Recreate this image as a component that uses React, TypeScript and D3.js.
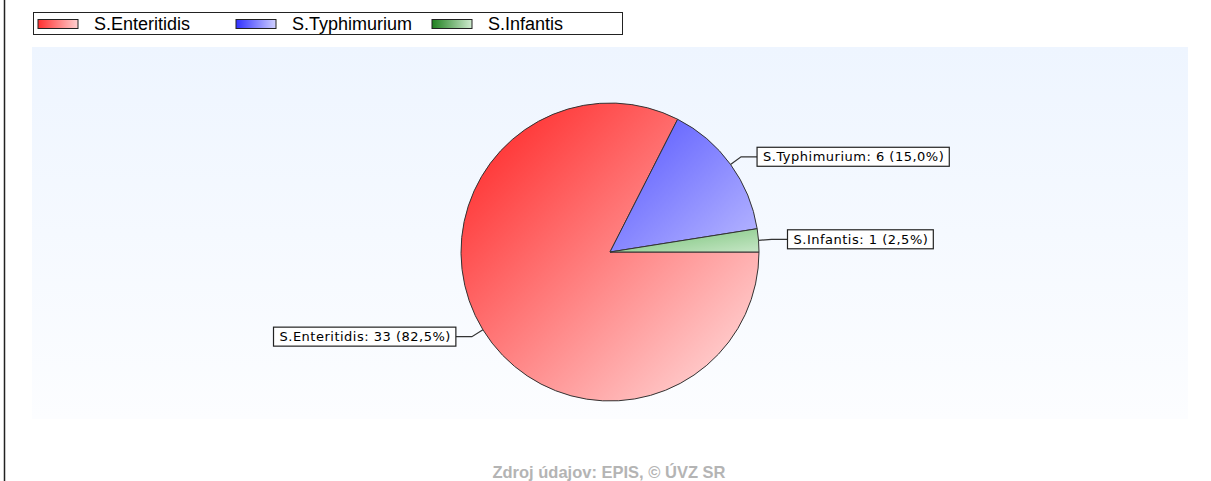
import React from "react";
import * as d3 from "d3";

const categories = ["S.Enteritidis", "S.Typhimurium", "S.Infantis"];
const values = [33, 6, 1];
const percentLabels = ["82,5%", "15,0%", "2,5%"];
const footerText = "Zdroj údajov: EPIS, © ÚVZ SR";

const W = 1211;
const H = 481;
const cx = 610;
const cy = 252;
const R = 149;

const sliceColors = [
  { dark: "#ff1f1f", light: "#ffe2e2" },
  { dark: "#5555ff", light: "#b8b8ff" },
  { dark: "#6fbf6f", light: "#c6e6c6" },
];
const legendSwatch = [
  { dark: "#ff3030", light: "#ffd0d0" },
  { dark: "#3030ff", light: "#d0d0ff" },
  { dark: "#208020", light: "#d0ecd0" },
];

const LABEL_SPACING = 0.5;

const measure = (() => {
  let ctx: CanvasRenderingContext2D | null = null;
  return (text: string, font: string) => {
    if (!ctx) ctx = document.createElement("canvas").getContext("2d");
    if (!ctx) return text.length * 7;
    ctx.font = font;
    return ctx.measureText(text).width;
  };
})();

export default function App() {
  const pie = d3
    .pie<number>()
    .sort(null)
    .startAngle(Math.PI / 2)
    .endAngle(Math.PI / 2 + 2 * Math.PI);
  const arcs = pie(values);
  const arcGen = d3.arc<d3.PieArcDatum<number>>().innerRadius(0).outerRadius(R);

  const labelFont = "13px 'DejaVu Sans'";
  const legendX = [38, 236, 432];

  return (
    <div style={{ position: "fixed", left: 0, top: 0, width: W, height: H, background: "#fff" }}>
      <svg width={W} height={H} style={{ display: "block" }}>
        <defs>
          <linearGradient id="bg" x1="0" y1="0" x2="0" y2="1">
            <stop offset="0" stopColor="#eef5ff" />
            <stop offset="1" stopColor="#fcfdff" />
          </linearGradient>
          {sliceColors.map((c, i) => (
            <linearGradient key={i} id={`sg${i}`} x1="0" y1="0" x2="1" y2="1">
              <stop offset="0" stopColor={c.dark} />
              <stop offset="1" stopColor={c.light} />
            </linearGradient>
          ))}
          {legendSwatch.map((c, i) => (
            <linearGradient key={i} id={`lg${i}`} x1="0" y1="0" x2="1" y2="0">
              <stop offset="0" stopColor={c.dark} />
              <stop offset="1" stopColor={c.light} />
            </linearGradient>
          ))}
        </defs>
        <line x1={4.5} y1={0} x2={4.5} y2={H} stroke="#222" strokeWidth={1.5} />
        <rect x={32} y={47} width={1156} height={372} fill="url(#bg)" />

        {/* legend */}
        <rect x={33.5} y={12.5} width={589} height={22} fill="#fff" stroke="#222" strokeWidth={1} />
        {categories.map((c, i) => (
          <g key={c}>
            <rect x={legendX[i]} y={19.5} width={40} height={9} fill={`url(#lg${i})`} stroke="#222" strokeWidth={1} />
            <text x={legendX[i] + 56} y={30} fontFamily="'Liberation Sans', Arial, sans-serif" fontSize={18} fill="#000">
              {c}
            </text>
          </g>
        ))}

        {/* pie */}
        <g transform={`translate(${cx},${cy})`}>
          {arcs.map((a, i) => (
            <path key={i} d={arcGen(a) || ""} fill={`url(#sg${i})`} stroke="#333" strokeWidth={1} />
          ))}
          {arcs.map((a, i) => {
            const mid = (a.startAngle + a.endAngle) / 2;
            const dx = Math.sin(mid);
            const dy = -Math.cos(mid);
            const p0 = [dx * R, dy * R];
            const p1 = [dx * (R + 13), dy * (R + 13)];
            const right = dx >= 0;
            const p2 = [p1[0] + (right ? 16 : -16), p1[1]];
            const text = `${categories[i]}: ${values[i]} (${percentLabels[i]})`;
            const tw = measure(text, labelFont) + LABEL_SPACING * text.length;
            const bw = tw + 11;
            const bh = 19;
            const bx = right ? p2[0] : p2[0] - bw;
            const by = p2[1] - bh / 2;
            return (
              <g key={`l${i}`}>
                <polyline
                  points={[p0, p1, p2].map((p) => p.join(",")).join(" ")}
                  fill="none"
                  stroke="#333"
                  strokeWidth={1.2}
                />
                <rect x={bx} y={by} width={bw} height={bh} fill="#fff" stroke="#222" strokeWidth={1.2} />
                <text
                  x={bx + 6}
                  y={by + 14}
                  fontFamily="'DejaVu Sans', Verdana, sans-serif"
                  fontSize={13}
                  letterSpacing={LABEL_SPACING}
                  fill="#000"
                >
                  {text}
                </text>
              </g>
            );
          })}
        </g>

        <text
          x={609}
          y={478}
          textAnchor="middle"
          fontFamily="'Liberation Sans', Arial, sans-serif"
          fontWeight="bold"
          fontSize={16.5}
          fill="#b4b4b4"
        >
          {footerText}
        </text>
      </svg>
    </div>
  );
}
